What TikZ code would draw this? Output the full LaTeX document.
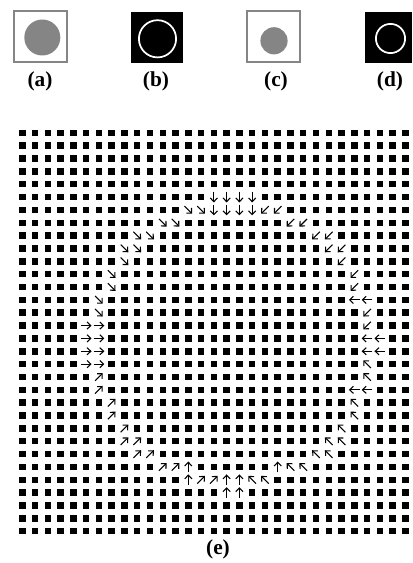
\documentclass[tikz,border=0pt]{standalone}
\usepackage{fontspec}
\setmainfont{Liberation Serif}
\usetikzlibrary{arrows.meta}
\definecolor{disc}{HTML}{858585}

\begin{document}
\begin{tikzpicture}[x=0.75pt,y=0.75pt,
  tag/.style={font=\fontsize{16}{18}\selectfont\bfseries,inner sep=0pt},
  frame/.style={draw=disc,line width=1.5pt},
  ring/.style={draw=white,line width=1.3pt},
  pix/.style={fill=black},
  vec/.style={draw=black,line width=.8pt,-{Straight Barb[length=2.8pt,width=5.4pt]}}
]
\useasboundingbox (0,0) rectangle (412,-563);
% small pictures
\draw[frame] (14.3,-11.3) rectangle (66.7,-61.7);
\fill[disc] (42.3,-37.5) circle (18);
\fill[black] (131,-12) rectangle (182.7,-63.3);
\draw[ring] (157.5,-38.8) circle (18.6);
\draw[frame] (247,-11.3) rectangle (300,-61.7);
\fill[disc] (274,-40.8) circle (13.6);
\fill[black] (364.5,-12) rectangle (412,-63.3);
\draw[ring] (390.5,-38.5) circle (14.6);
\node[tag] (a) at (40,-81) {(a)};
\node[tag] (b) at (156,-81) {(b)};
\node[tag] (c) at (276,-81) {(c)};
\node[tag] (d) at (390,-81) {(d)};
% pixel grid
\foreach \c in {0,...,30}
  \foreach \r in {0,...,31}
    \fill[pix] (22.3+12.77*\c-3.25,-132.8-12.85*\r-3.25) rectangle +(6.5,6.5);
% gradient arrows round the circle
\foreach \c/\r/\a in {15/5/270,16/5/270,17/5/270,18/5/270,
    13/6/315,14/6/315,15/6/270,16/6/270,17/6/270,18/6/270,19/6/225,20/6/225,
    11/7/315,12/7/315,21/7/225,22/7/225,
    9/8/315,10/8/315,23/8/225,24/8/225,
    8/9/315,9/9/315,24/9/225,25/9/225,
    8/10/315,25/10/225,7/11/315,26/11/225,7/12/315,26/12/225,
    6/13/315,26/13/180,27/13/180,6/14/315,27/14/225,
    5/15/0,6/15/0,27/15/225,
    5/16/0,6/16/0,27/16/180,28/16/180,
    5/17/0,6/17/0,27/17/180,28/17/180,
    5/18/0,6/18/0,27/18/135,6/19/45,27/19/135,
    6/20/45,26/20/180,27/20/180,
    7/21/45,26/21/135,7/22/45,26/22/135,8/23/45,25/23/135,
    8/24/45,9/24/45,24/24/135,25/24/135,
    9/25/45,10/25/45,23/25/135,24/25/135,
    11/26/45,12/26/45,13/26/90,20/26/90,21/26/135,22/26/135,
    13/27/90,14/27/45,15/27/45,16/27/90,17/27/90,18/27/135,19/27/135,
    16/28/90,17/28/90}{
  \fill[white] (22.3+12.77*\c,-132.8-12.85*\r) +(-4,-4) rectangle +(4,4);
  \draw[vec] (22.3+12.77*\c,-132.8-12.85*\r) +(\a+180:5.4) -- +(\a:5.4);
}
\node[tag] (e) at (218,-549) {(e)};
\end{tikzpicture}
\end{document}
